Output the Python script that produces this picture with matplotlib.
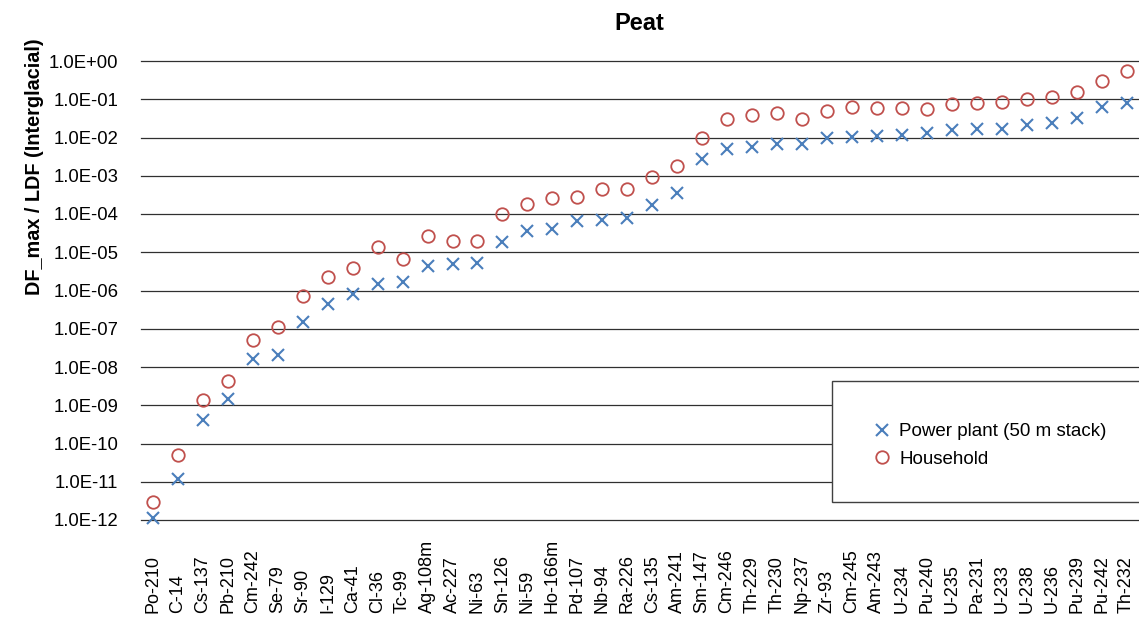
import numpy as np
import matplotlib
matplotlib.use('Agg')
import matplotlib.pyplot as plt
from matplotlib.ticker import FixedLocator, FuncFormatter, NullLocator
from matplotlib.patches import Rectangle

plt.rcParams['font.family'] = ['Liberation Sans', 'DejaVu Sans']

nuclides = ['Po-210', 'C-14', 'Cs-137', 'Pb-210', 'Cm-242', 'Se-79', 'Sr-90', 'I-129',
            'Ca-41', 'Cl-36', 'Tc-99', 'Ag-108m', 'Ac-227', 'Ni-63', 'Sn-126', 'Ni-59',
            'Ho-166m', 'Pd-107', 'Nb-94', 'Ra-226', 'Cs-135', 'Am-241', 'Sm-147', 'Cm-246',
            'Th-229', 'Th-230', 'Np-237', 'Zr-93', 'Cm-245', 'Am-243', 'U-234', 'Pu-240',
            'U-235', 'Pa-231', 'U-233', 'U-238', 'U-236', 'Pu-239', 'Pu-242', 'Th-232']

# DF_max / LDF, power plant (50 m stack)
power_plant = [1.1e-12, 1.2e-11, 4.1e-10, 1.5e-9, 1.6e-8, 2.0e-8, 1.5e-7, 4.5e-7,
               7.9e-7, 1.5e-6, 1.7e-6, 4.3e-6, 4.8e-6, 5.3e-6, 1.85e-5, 3.5e-5,
               4.1e-5, 6.4e-5, 6.8e-5, 7.7e-5, 1.7e-4, 3.5e-4, 2.7e-3, 4.9e-3,
               5.7e-3, 6.7e-3, 6.7e-3, 9.6e-3, 1.04e-2, 1.1e-2, 1.17e-2, 1.28e-2,
               1.6e-2, 1.65e-2, 1.65e-2, 2.15e-2, 2.4e-2, 3.3e-2, 6.4e-2, 7.8e-2]

# DF_max / LDF, household
household = [3.0e-12, 5.1e-11, 1.4e-9, 4.4e-9, 5.1e-8, 1.1e-7, 7.4e-7, 2.3e-6,
             3.8e-6, 1.4e-5, 6.6e-6, 2.7e-5, 2.0e-5, 2.0e-5, 9.8e-5, 1.8e-4,
             2.7e-4, 2.85e-4, 4.4e-4, 4.4e-4, 9.3e-4, 1.8e-3, 1.0e-2, 3.0e-2,
             3.9e-2, 4.4e-2, 3.0e-2, 4.9e-2, 6.4e-2, 6.0e-2, 6.0e-2, 5.4e-2,
             7.5e-2, 8.1e-2, 8.3e-2, 0.103, 0.114, 0.157, 0.30, 0.54]

decades = [1e-12, 1e-11, 1e-10, 1e-9, 1e-8, 1e-7, 1e-6, 1e-5, 1e-4, 1e-3, 1e-2, 1e-1, 1e0]

W, H = 1139, 619
fig = plt.figure(figsize=(W / 100, H / 100), dpi=100)
ax = fig.add_axes([140.5 / W, 1 - 520 / H, (W - 140.5) / W, (520 - 61) / H])

x = np.arange(len(nuclides))
ax.plot(x, power_plant, linestyle='none', marker='x', markersize=8.5,
        markeredgewidth=1.5, color='#4A7EBB', label='Power plant (50 m stack)',
        clip_on=False, zorder=3)
ax.plot(x, household, linestyle='none', marker='o', markersize=9,
        markerfacecolor='none', markeredgewidth=1.3, markeredgecolor='#C0504D',
        label='Household', clip_on=False, zorder=3)

ax.set_yscale('log')
ax.set_ylim(1e-12, 1)
ax.set_xlim(-0.5, len(nuclides) - 0.5)
ax.yaxis.set_major_locator(FixedLocator(decades))
ax.yaxis.set_minor_locator(NullLocator())
ax.yaxis.set_major_formatter(FuncFormatter(lambda v, p: f'{v:.1E}'))
ax.grid(axis='y', color='#303030', linewidth=0.9)
ax.set_axisbelow(True)
for s in ax.spines.values():
    s.set_visible(False)

ax.set_xticks(x)
ax.set_xticklabels(nuclides, rotation=90, va='bottom', ha='center')
ax.tick_params(axis='x', length=0, pad=67, labelsize=13)
ax.tick_params(axis='y', length=0, pad=16, labelsize=13.3)
# keep edge gridlines whole
for gl in ax.get_ygridlines():
    gl.set_clip_on(False)

ax.set_title('Peat', fontsize=17, fontweight='bold', pad=22)
ax.set_ylabel('DF_max / LDF (Interglacial)', fontsize=14.3, fontweight='bold', va='center')
ax.yaxis.set_label_coords(-0.106, 0.770)

# legend box
ax.add_patch(Rectangle(((832 - 140.5) / 998, (520 - 502) / 459),
                       (W - 832) / 998, (502 - 381) / 459,
                       transform=ax.transAxes, facecolor='white',
                       edgecolor='#404040', linewidth=1.0, clip_on=False, zorder=4))
leg = ax.legend(loc='center left', bbox_to_anchor=(873 / W, 1 - 445.5 / H),
                bbox_transform=fig.transFigure, frameon=False, fontsize=13.5,
                handlelength=1.0, handletextpad=0.4, borderpad=0, borderaxespad=0,
                labelspacing=0.55, numpoints=1)
leg.set_zorder(5)

fig.savefig('out.png', dpi=100)
